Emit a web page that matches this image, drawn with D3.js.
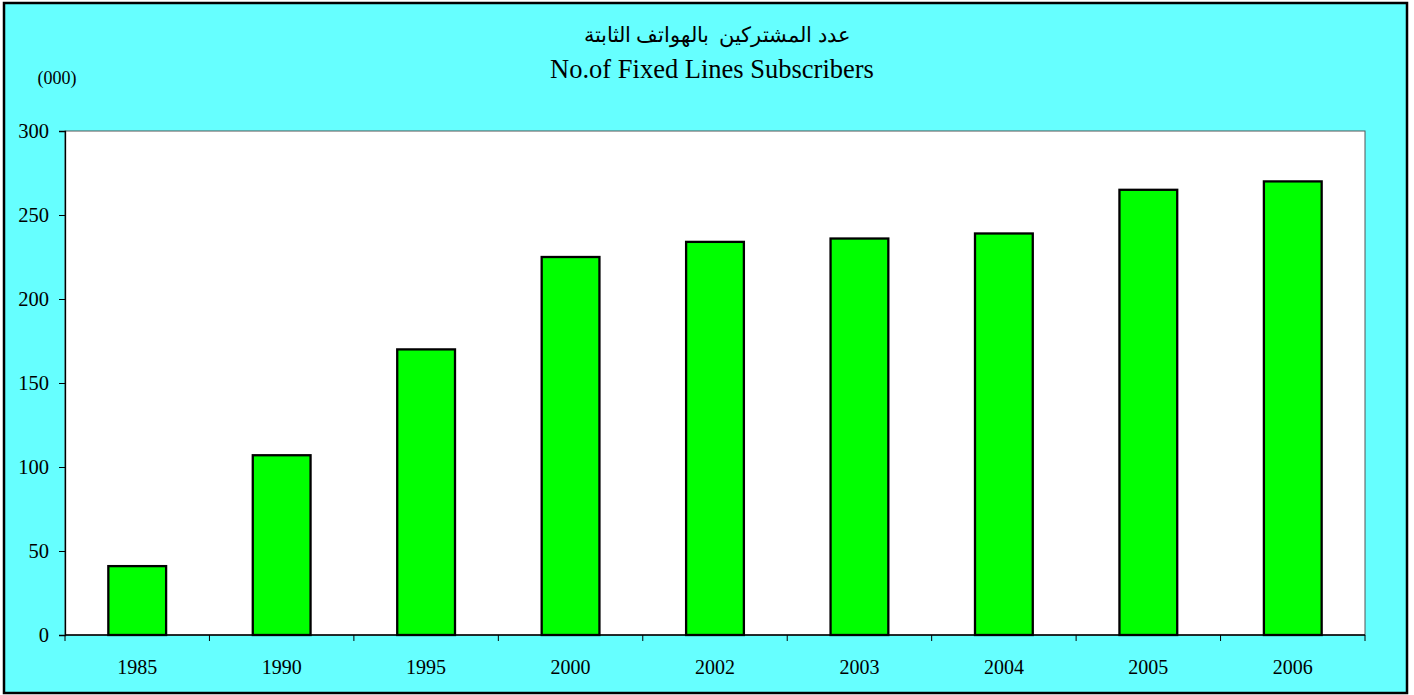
<!DOCTYPE html>
<html><head><meta charset="utf-8">
<script src="https://cdn.jsdelivr.net/npm/d3@7"></script>
<style>html,body{margin:0;padding:0;background:#fff;}svg{display:block;}</style>
</head><body>
<script>
const categories = ["1985","1990","1995","2000","2002","2003","2004","2005","2006"];
const values = [41, 107, 170, 225, 234, 236, 239, 265, 270];
const yTicks = [0, 50, 100, 150, 200, 250, 300];
const titleAr = "عدد المشتركين  بالهواتف الثابتة";
const titleEn = "No.of Fixed Lines Subscribers";
const unitLabel = "(000)";

const W = 1414, H = 695;
const plot = {left: 65, top: 131, right: 1365, bottom: 635};
const svg = d3.select("body").append("svg").attr("width", W).attr("height", H);
const font = "'Liberation Serif', 'Times New Roman', serif";

svg.append("rect").attr("x", 4).attr("y", 3).attr("width", 1403).attr("height", 690)
  .attr("fill", "#66FFFF").attr("stroke", "#000").attr("stroke-width", 2.5);

svg.append("rect").attr("x", plot.left).attr("y", plot.top)
  .attr("width", plot.right - plot.left).attr("height", plot.bottom - plot.top)
  .attr("fill", "#fff").attr("stroke", "#555").attr("stroke-width", 1);

const x = d3.scaleBand().domain(categories).range([plot.left, plot.right]).paddingInner(0.6).paddingOuter(0.3);
const y = d3.scaleLinear().domain([0, 300]).range([plot.bottom, plot.top]);

svg.append("g").selectAll("rect").data(values).join("rect")
  .attr("x", (d, i) => x(categories[i]))
  .attr("y", d => y(d))
  .attr("width", x.bandwidth())
  .attr("height", d => y(0) - y(d))
  .attr("fill", "#00FF00").attr("stroke", "#000").attr("stroke-width", 2.3);

const yAxis = d3.axisLeft(y).tickValues(yTicks).tickSize(6).tickPadding(10);
const gy = svg.append("g").attr("transform", `translate(${plot.left},0)`).call(yAxis);
gy.select(".domain").attr("stroke", "#000").attr("stroke-width", 1.3);
gy.selectAll("text").attr("font-family", font).attr("font-size", 20.5).attr("fill", "#000");

// x axis with ticks at category boundaries
const gx = svg.append("g").attr("transform", `translate(0,${plot.bottom})`);
gx.append("line").attr("x1", plot.left).attr("x2", plot.right).attr("stroke", "#000").attr("stroke-width", 1.3);
const bounds = d3.range(categories.length + 1).map(i => plot.left + i * (plot.right - plot.left) / categories.length);
gx.selectAll("line.tk").data(bounds).join("line").attr("class", "tk")
  .attr("x1", d => d).attr("x2", d => d).attr("y1", 0).attr("y2", 6).attr("stroke", "#000");
gx.selectAll("text").data(categories).join("text")
  .attr("x", d => x(d) + x.bandwidth() / 2).attr("y", 39)
  .attr("text-anchor", "middle").attr("font-family", font).attr("font-size", 20).text(d => d);

svg.append("text").attr("x", 717).attr("y", 42).attr("text-anchor", "middle")
  .attr("font-family", font).attr("font-size", 21).attr("direction", "rtl")
  .style("white-space", "pre").text(titleAr);
svg.append("text").attr("x", 712).attr("y", 78).attr("text-anchor", "middle")
  .attr("font-family", font).attr("font-size", 26.5).text(titleEn);
svg.append("text").attr("x", 57).attr("y", 84).attr("text-anchor", "middle")
  .attr("font-family", font).attr("font-size", 18).text(unitLabel);
</script>
</body></html>
